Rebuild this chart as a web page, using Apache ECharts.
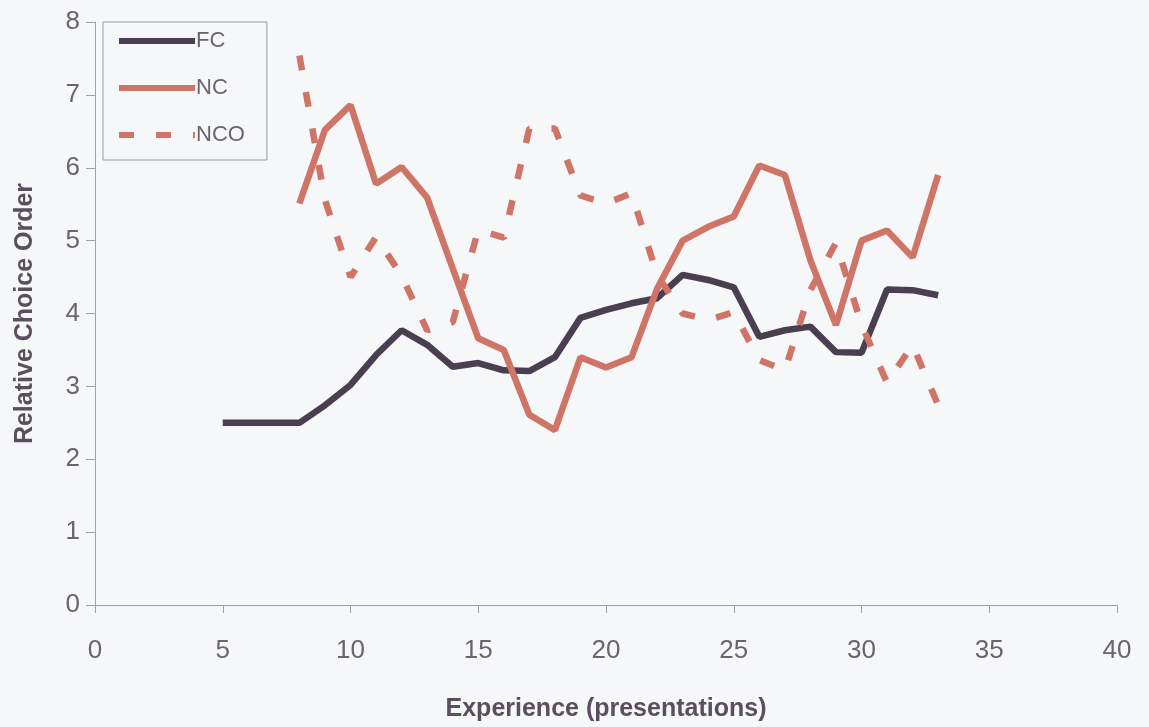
<!DOCTYPE html>
<html>
<head>
<meta charset="utf-8">
<script src="https://cdn.jsdelivr.net/npm/echarts@6/dist/echarts.min.js"></script>
<style>
html,body{margin:0;padding:0;background:#f6f7f9;}
#chart{width:1149px;height:727px;}
</style>
</head>
<body>
<div id="chart"></div>
<script>
const fcX = [5,6,7,8,9,10,11,12,13,14,15,16,17,18,19,20,21,22,23,24,25,26,27,28,29,30,31,32,33];
const fcY = [2.5,2.5,2.5,2.5,2.74,3.02,3.43,3.77,3.57,3.27,3.32,3.22,3.21,3.40,3.94,4.05,4.14,4.21,4.53,4.46,4.36,3.68,3.77,3.82,3.47,3.46,4.33,4.32,4.25];
const ncX = [8,9,10,11,12,13,14,15,16,17,18,19,20,21,22,23,24,25,26,27,28,29,30,31,32,33];
const ncY = [5.51,6.52,6.86,5.78,6.01,5.59,4.62,3.66,3.50,2.61,2.40,3.40,3.26,3.40,4.34,5.0,5.19,5.33,6.03,5.90,4.73,3.84,5.0,5.14,4.77,5.90];
const ncoX = [8,9,10,11,12,13,14,15,16,17,18,19,20,21,22,23,24,25,26,27,28,29,30,31,32,33];
const ncoY = [7.54,5.56,4.50,5.05,4.52,3.77,3.88,5.15,5.04,6.54,6.54,5.62,5.51,5.65,4.53,4.0,3.91,4.02,3.36,3.22,4.32,4.97,3.85,3.05,3.57,2.74];
const xTicks = [0,5,10,15,20,25,30,35,40];
const yTicks = [0,1,2,3,4,5,6,7,8];

const pairs = (xs, ys) => xs.map((x, i) => [x, ys[i]]);
const FC_COLOR = '#4a3f50';
const NC_COLOR = '#cf7568';
const chart = echarts.init(document.getElementById('chart'));
chart.setOption({
  backgroundColor: '#f6f7f9',
  animation: false,
  grid: {left: 95, right: 32, top: 22, bottom: 122, containLabel: false, outerBoundsMode: 'none'},
  legend: {
    orient: 'vertical', left: 103, top: 22,
    padding: [8, 22, 14, 13],
    borderColor: '#9a9aa4', borderWidth: 1,
    itemWidth: 76, itemHeight: 22, itemGap: 25,
    itemStyle: {opacity: 0},
    lineStyle: {width: 6},
    textStyle: {fontFamily: 'Liberation Sans, Arial', fontSize: 22, color: '#6a6470', padding: [0,0,0,-4]},
    data: ['FC', 'NC', 'NCO']
  },
  xAxis: {
    type: 'value', min: xTicks[0], max: xTicks[xTicks.length-1], interval: 5,
    name: 'Experience (presentations)', nameLocation: 'middle', nameGap: 92,
    nameTextStyle: {fontFamily: 'Liberation Sans, Arial', fontSize: 25, fontWeight: 'bold', color: '#5a4f5e'},
    axisLine: {lineStyle: {color: '#a0a0aa', width: 1}},
    axisTick: {show: true, length: 8, lineStyle: {color: '#a0a0aa'}},
    axisLabel: {fontFamily: 'Liberation Sans, Arial', fontSize: 26, color: '#6a6470', margin: 33},
    splitLine: {show: false}
  },
  yAxis: {
    type: 'value', min: yTicks[0], max: yTicks[yTicks.length-1], interval: 1,
    name: 'Relative Choice Order', nameLocation: 'middle', nameGap: 57,
    nameTextStyle: {fontFamily: 'Liberation Sans, Arial', fontSize: 25, fontWeight: 'bold', color: '#5a4f5e'},
    axisLine: {show: true, lineStyle: {color: '#a0a0aa', width: 1}},
    axisTick: {show: true, length: 9, lineStyle: {color: '#a0a0aa'}},
    axisLabel: {fontFamily: 'Liberation Sans, Arial', fontSize: 26, color: '#6a6470', margin: 15},
    splitLine: {show: false}
  },
  series: [
    {name: 'FC', type: 'line', data: pairs(fcX, fcY), showSymbol: false, symbol: 'none',
     itemStyle: {color: FC_COLOR}, lineStyle: {color: FC_COLOR, width: 6.5}},
    {name: 'NC', type: 'line', data: pairs(ncX, ncY), showSymbol: false, symbol: 'none',
     itemStyle: {color: NC_COLOR}, lineStyle: {color: NC_COLOR, width: 6.5}},
    {name: 'NCO', type: 'line', data: pairs(ncoX, ncoY), showSymbol: false, symbol: 'none',
     itemStyle: {color: NC_COLOR}, lineStyle: {color: NC_COLOR, width: 6.5, type: [15, 22]}}
  ]
});
</script>
</body>
</html>
